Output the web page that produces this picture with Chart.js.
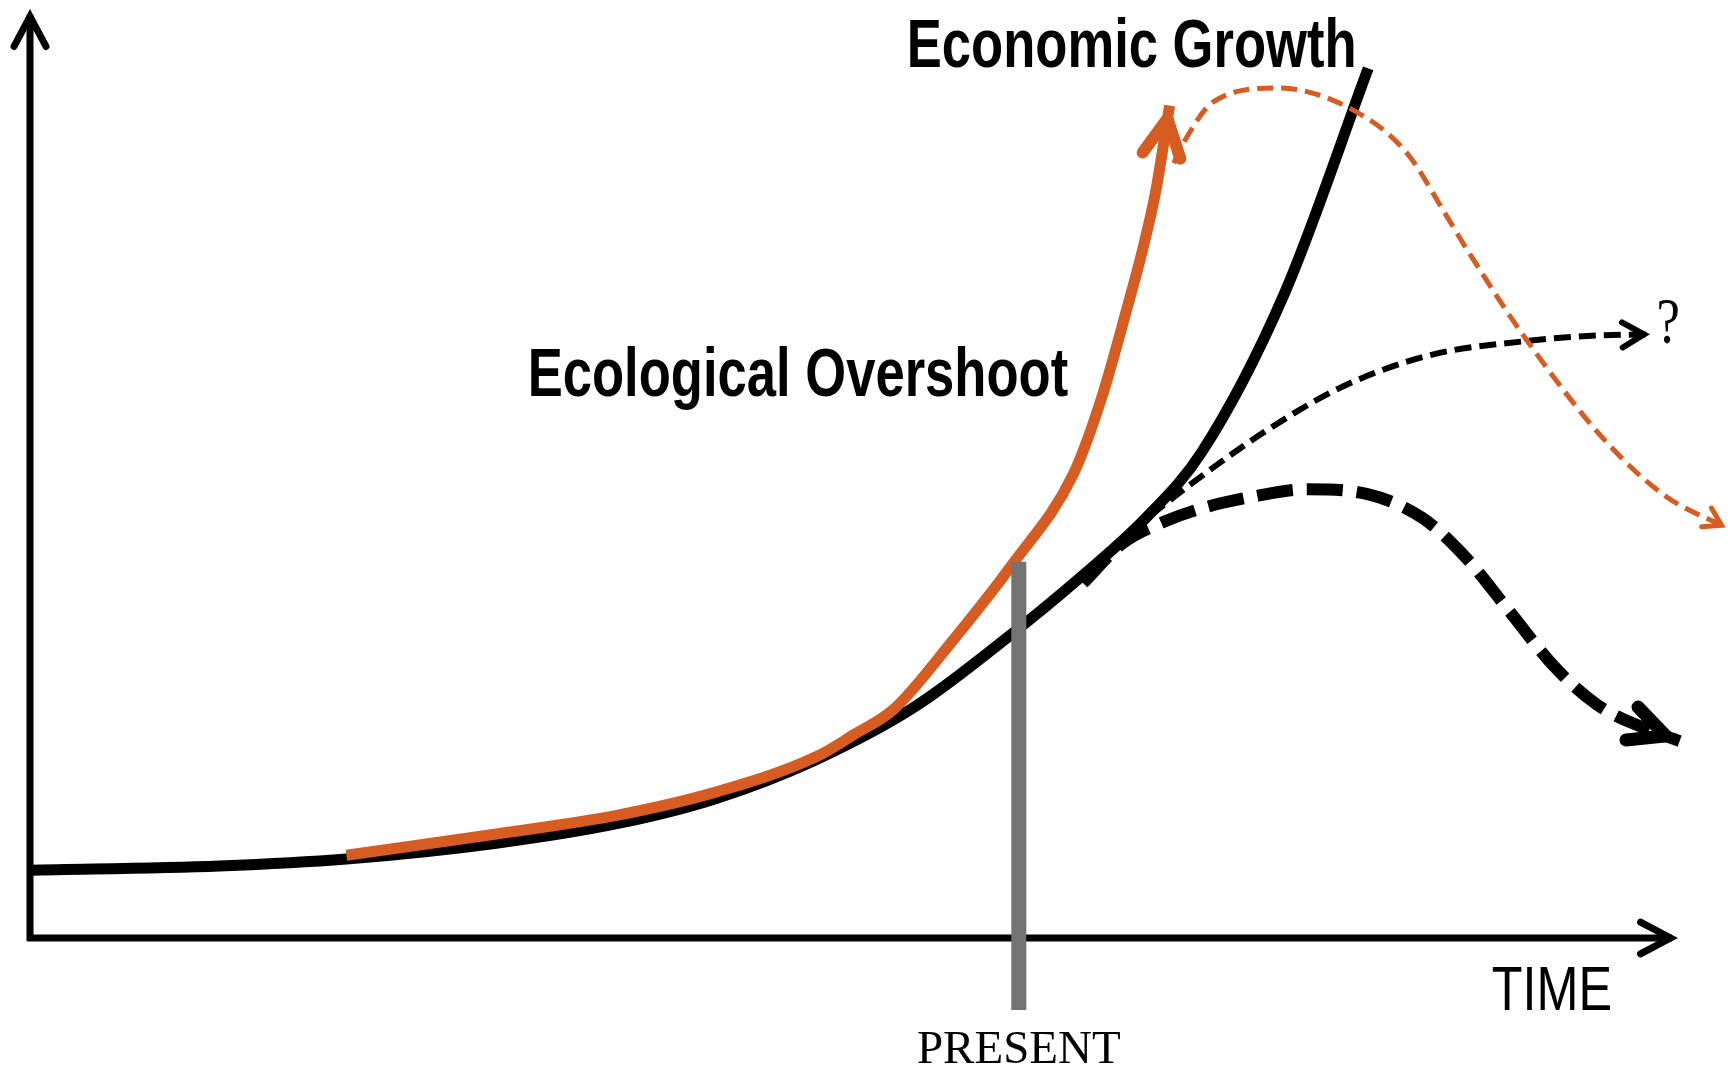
<!DOCTYPE html>
<html>
<head>
<meta charset="utf-8">
<title>Economic Growth and Ecological Overshoot</title>
<script src="https://cdn.jsdelivr.net/npm/chart.js"></script>
<style>
  html, body { margin: 0; padding: 0; background: #fff; }
  #wrap { width: 1728px; height: 1071px; position: relative; }
</style>
</head>
<body>
<div id="wrap"><canvas id="growthChart"></canvas></div>
<script>
// time runs 0..100 along the x axis, value 0..100 up the y axis
const growthTime  = [0, 11.5, 19.2, 28.3, 35.6, 41.6, 47.7, 53.7, 59.7, 63.4, 67.7, 71.1, 76.1, 81.2];
const growthValue = [7.3, 7.75, 8.5, 10.2, 12.3, 15.0, 19.2, 24.9, 32.9, 38.3, 45.2, 52.3, 69.3, 93.6];

const overshootTime  = [19.2, 28.3, 35.6, 41.6, 47.7, 50.0, 52.4, 55.8, 59.6, 63.3, 65.0, 66.6, 67.5, 68.3, 69.15];
const overshootValue = [8.9, 11.2, 13.2, 15.7, 19.5, 21.9, 24.6, 31.6, 40.2, 49.9, 58.0, 68.0, 74.0, 80.3, 89.6];

// overshoot followed by decline
const collapseTime  = [69.4, 70.0, 71.8, 75.7, 80.1, 83.5, 86.0, 87.2, 90.8, 95.7, 99.3, 102.9];
const collapseValue = [83.4, 85.6, 90.0, 91.5, 89.3, 84.6, 77.6, 74.1, 64.4, 53.3, 47.5, 44.2];

// growth levelling off
const plateauTime  = [66.8, 70.4, 75.1, 79.7, 85.1, 90.5, 94.5, 98.3];
const plateauValue = [43.8, 48.8, 54.7, 59.4, 62.8, 64.2, 64.8, 65.0];

// growth peaking and falling back
const declineTime  = [63.9, 66.3, 68.8, 71.2, 74.2, 77.5, 81.1, 84.5, 87.1, 89.8, 92.5, 95.1, 97.8, 100.1];
const declineValue = [38.2, 42.5, 44.8, 46.3, 47.5, 48.3, 47.8, 45.2, 41.0, 35.1, 29.2, 25.1, 22.7, 21.2];

const presentTime = 60.0;
const presentSpan = [40.5, -7.75];

const ORANGE = '#d65c22';

const toPoints = (xs, ys) => xs.map((x, i) => ({ x: x, y: ys[i] }));

// open arrow head whose sharp tip lands on (x, y)
function chevron(ctx, x, y, angle, a) {
    const ha = a.half * Math.PI / 180;
    const back = a.width / (2 * Math.sin(ha));
    const tx = x - back * Math.cos(angle), ty = y - back * Math.sin(angle);
    ctx.save();
    ctx.strokeStyle = a.color;
    ctx.lineWidth = a.width;
    ctx.lineCap = 'round';
    ctx.lineJoin = 'miter';
    ctx.miterLimit = 10;
    ctx.setLineDash([]);
    ctx.beginPath();
    ctx.moveTo(tx - a.size * Math.cos(angle - ha), ty - a.size * Math.sin(angle - ha));
    ctx.lineTo(tx, ty);
    ctx.lineTo(tx - a.size * Math.cos(angle + ha), ty - a.size * Math.sin(angle + ha));
    ctx.stroke();
    ctx.restore();
}

// axes with arrow tips, drawn from the scales
const axesPlugin = {
    id: 'axes',
    beforeDatasetsDraw(chart) {
        const { ctx, scales: { x, y } } = chart;
        const x0 = x.getPixelForValue(0), y0 = y.getPixelForValue(0);
        const xEnd = x.getPixelForValue(100), yEnd = y.getPixelForValue(100);
        ctx.save();
        ctx.strokeStyle = '#000';
        ctx.lineWidth = 7;
        ctx.lineCap = 'butt';
        ctx.beginPath();
        ctx.moveTo(x0, y0 + 3);
        ctx.lineTo(x0, yEnd + 6);
        ctx.moveTo(x0 - 3, y0);
        ctx.lineTo(xEnd - 6, y0);
        ctx.stroke();
        ctx.restore();
        const head = { size: 34, half: 28, width: 7, color: '#000' };
        chevron(ctx, x0, yEnd, -Math.PI / 2, head);
        chevron(ctx, xEnd, y0, 0, head);
    }
};

// arrow heads at the end of each curve, pointing along the last segment
const arrowPlugin = {
    id: 'arrowHeads',
    afterDatasetsDraw(chart) {
        const ctx = chart.ctx;
        chart.data.datasets.forEach((ds, i) => {
            if (!ds.arrow) return;
            const pts = chart.getDatasetMeta(i).data;
            const last = pts[pts.length - 1];
            const prev = pts[pts.length - 2];
            const angle = Math.atan2(last.y - prev.y, last.x - prev.x);
            chevron(ctx, last.x, last.y, angle, ds.arrow);
        });
    }
};

// text labels placed in chart units
const labelPlugin = {
    id: 'labels',
    afterDatasetsDraw(chart) {
        const { ctx, scales: { x, y } } = chart;
        const labels = [
            { text: 'Economic Growth', t: 53.2, v: 93.8, font: 'bold 69px "Liberation Sans", Arial, sans-serif', sx: 0.762, align: 'left' },
            { text: 'Ecological Overshoot', t: 30.2, v: 58.3, font: 'bold 69px "Liberation Sans", Arial, sans-serif', sx: 0.762, align: 'left' },
            { text: 'TIME', t: 88.7, v: -7.75, font: '63px "Liberation Sans", Arial, sans-serif', sx: 0.8, align: 'left' },
            { text: 'PRESENT', t: presentTime, v: -13.5, font: '47px "Liberation Serif", "Times New Roman", serif', sx: 1, align: 'center' },
            { text: '?', t: 98.7, v: 64.0, font: '66px "Liberation Serif", "Times New Roman", serif', sx: 0.8, align: 'left' }
        ];
        ctx.save();
        ctx.fillStyle = '#000';
        ctx.textBaseline = 'alphabetic';
        labels.forEach(l => {
            ctx.save();
            ctx.font = l.font;
            ctx.textAlign = l.align;
            ctx.translate(x.getPixelForValue(l.t), y.getPixelForValue(l.v));
            ctx.scale(l.sx, 1);
            ctx.fillText(l.text, 0, 0);
            ctx.restore();
        });
        ctx.restore();
    }
};

new Chart(document.getElementById('growthChart'), {
    type: 'line',
    data: {
        datasets: [
            {
                label: 'Present',
                data: [{ x: presentTime, y: presentSpan[0] }, { x: presentTime, y: presentSpan[1] }],
                borderColor: '#737373',
                borderWidth: 15,
                borderCapStyle: 'butt',
                tension: 0,
                order: 0
            },
            {
                label: 'Ecological Overshoot',
                data: toPoints(overshootTime, overshootValue),
                borderColor: ORANGE,
                borderWidth: 11,
                cubicInterpolationMode: 'monotone',
                arrow: { size: 42, half: 27, width: 12, color: ORANGE },
                order: 1
            },
            {
                label: 'Overshoot and decline',
                data: toPoints(collapseTime, collapseValue),
                borderColor: ORANGE,
                borderWidth: 5,
                borderDash: [16, 8],
                cubicInterpolationMode: 'monotone',
                arrow: { size: 20, half: 32, width: 5, color: ORANGE },
                order: 2
            },
            {
                label: 'Peak and decline',
                data: toPoints(declineTime, declineValue),
                borderColor: '#000',
                borderWidth: 12,
                borderDash: [36, 14],
                cubicInterpolationMode: 'monotone',
                arrow: { size: 40, half: 26, width: 13, color: '#000' },
                order: 3
            },
            {
                label: 'Levelling off',
                data: toPoints(plateauTime, plateauValue),
                borderColor: '#000',
                borderWidth: 6,
                borderDash: [17, 8],
                cubicInterpolationMode: 'monotone',
                arrow: { size: 25, half: 30, width: 6, color: '#000' },
                order: 4
            },
            {
                label: 'Economic Growth',
                data: toPoints(growthTime, growthValue),
                borderColor: '#000',
                borderWidth: 11,
                cubicInterpolationMode: 'monotone',
                order: 5
            }
        ]
    },
    options: {
        responsive: true,
        maintainAspectRatio: false,
        animation: false,
        clip: false,
        elements: { point: { radius: 0, hoverRadius: 0 }, line: { fill: false } },
        layout: { padding: { left: 30, right: 50, top: 9, bottom: 133 } },
        scales: {
            x: { type: 'linear', min: 0, max: 100, display: false },
            y: { type: 'linear', min: 0, max: 100, display: false }
        },
        plugins: {
            legend: { display: false },
            tooltip: { enabled: false }
        }
    },
    plugins: [axesPlugin, arrowPlugin, labelPlugin]
});
</script>
</body>
</html>
